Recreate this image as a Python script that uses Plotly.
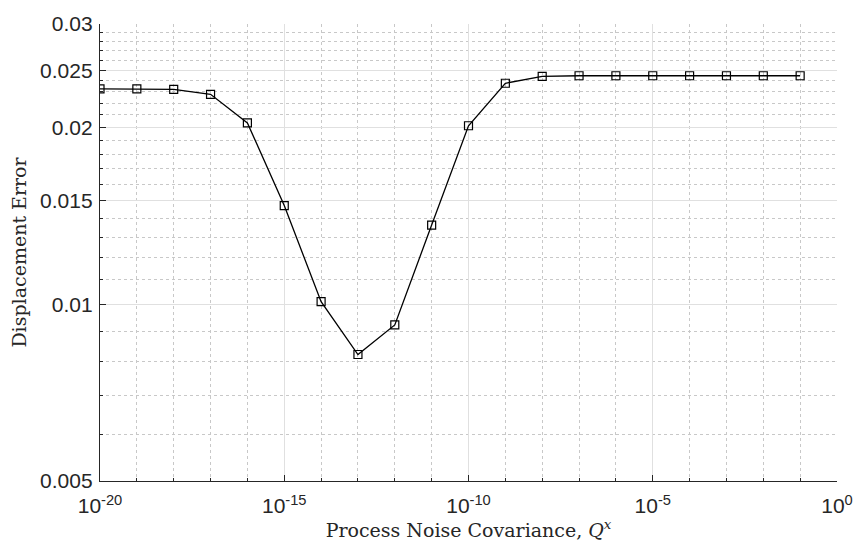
import plotly.graph_objects as go

# Data
q_exponents = list(range(-20, 0))  # 1e-20 ... 1e-1
q_values = [10.0 ** e for e in q_exponents]
disp_error = [0.02326, 0.02326, 0.02322, 0.02277, 0.02036, 0.01472, 0.01010,
              0.00821, 0.00922, 0.01364, 0.02013, 0.02378, 0.02443, 0.02449,
              0.02449, 0.02449, 0.02449, 0.02449, 0.02449, 0.02449]

x_major_exp = [-20, -15, -10, -5, 0]
x_major_vals = [10.0 ** e for e in x_major_exp]
x_major_text = ["10<sup>%d</sup>" % e for e in x_major_exp]
x_minor_vals = [10.0 ** e for e in range(-20, 1) if e % 5 != 0]

y_major_vals = [0.005, 0.01, 0.015, 0.02, 0.025, 0.03]
y_major_text = ["0.005", "0.01", "0.015", "0.02", "0.025", "0.03"]
y_minor_vals = [k / 1000 for k in range(6, 30) if k % 5 != 0]

fig = go.Figure()
fig.add_trace(go.Scatter(
    x=q_values, y=disp_error, mode="lines+markers",
    line=dict(color="black", width=1.3),
    marker=dict(symbol="square-open", size=8, color="black", line=dict(width=1.2)),
    showlegend=False,
))

tick_font = dict(family="Liberation Sans, Arial, sans-serif", size=21, color="#262626")
title_font = dict(family="DejaVu Serif, serif", size=19, color="#262626")

fig.update_layout(
    width=865, height=552,
    margin=dict(l=100, r=19, t=16, b=71),
    paper_bgcolor="white", plot_bgcolor="white",
    xaxis=dict(
        type="log", range=[-20, 0],
        tickmode="array", tickvals=x_major_vals, ticktext=x_major_text,
        tickfont=tick_font, ticklabelstandoff=6,
        showline=True, linecolor="#262626", linewidth=1.3,
        ticks="inside", ticklen=6, tickcolor="#262626",
        showgrid=True, gridcolor="#e0e0e0", gridwidth=1.3,
        zeroline=False,
        minor=dict(tickmode="array", tickvals=x_minor_vals, showgrid=True,
                   gridcolor="#c8c8c8", griddash="dot", gridwidth=1,
                   ticks="inside", ticklen=3, tickcolor="#262626"),
        title=dict(text="Process Noise Covariance, <i>Q<sup>x</sup></i>", font=title_font, standoff=4),
    ),
    yaxis=dict(
        type="log", range=[-2.30103, -1.5228787],
        tickmode="array", tickvals=y_major_vals, ticktext=y_major_text,
        tickfont=tick_font, ticklabelstandoff=2,
        showline=True, linecolor="#262626", linewidth=1.3,
        ticks="inside", ticklen=6, tickcolor="#262626",
        showgrid=True, gridcolor="#e0e0e0", gridwidth=1.3,
        zeroline=False,
        minor=dict(tickmode="array", tickvals=y_minor_vals, showgrid=True,
                   gridcolor="#c8c8c8", griddash="dot", gridwidth=1,
                   ticks="inside", ticklen=3, tickcolor="#262626"),
        title=dict(text="Displacement Error", font=title_font, standoff=8),
    ),
)

fig.write_html("out.html")
